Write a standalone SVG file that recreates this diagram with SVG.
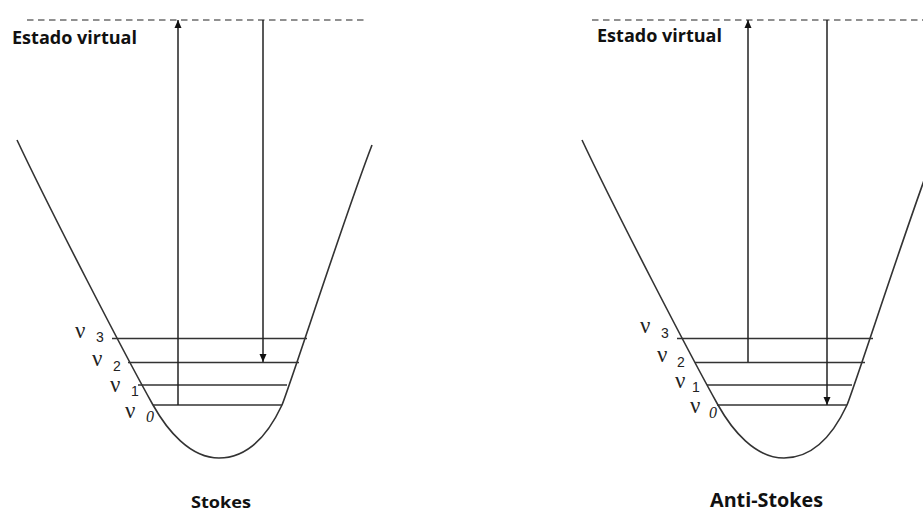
<svg xmlns="http://www.w3.org/2000/svg" width="923" height="514" viewBox="0 0 923 514">
<style>
.bg{fill:#ffffff}
.dash{stroke:#222;stroke-width:1.2;stroke-dasharray:6.5 4.5;fill:none}
.curve{stroke:#333;stroke-width:1.6;fill:none}
.lvl{stroke:#333;stroke-width:1.6;fill:none}
.arr{stroke:#222;stroke-width:1.5;fill:none;marker-end:url(#ah)}
.title{font-family:"Open Sans","Liberation Sans",sans-serif;font-weight:700;fill:#111}
.nu{font-family:"Liberation Serif","DejaVu Serif",serif;font-size:23px;fill:#222}
.sub{font-family:"Liberation Sans","DejaVu Sans",sans-serif;font-size:14px;fill:#222}
.sub0{font-family:"Liberation Serif","DejaVu Serif",serif;font-style:italic;font-size:16px;fill:#222}
</style>
<defs>
<marker id="ah" viewBox="0 0 8 8" refX="8" refY="4" markerWidth="8" markerHeight="8" markerUnits="userSpaceOnUse" orient="auto">
<path d="M0,0.5 L8,4 L0,7.5 Z" fill="#111"/>
</marker>
<path id="well" d="M17,140 C50,210 125,355 153,405 C167,430 190,458 219,458 C248,458 268,435 282,405 C292,380 345,215 372,145"/>
</defs>
<rect class="bg" x="0" y="0" width="923" height="514"/>

<g id="stokes">
<g id="stokes-virtual">
<line class="dash" x1="27" y1="20" x2="368" y2="20"/>
<text class="title" x="12" y="44" font-size="17" textLength="125" lengthAdjust="spacingAndGlyphs">Estado virtual</text>
</g>
<g id="stokes-well">
<use href="#well" class="curve"/>
</g>
<g id="stokes-levels">
<line class="lvl" x1="112" y1="338.5" x2="307" y2="338.5"/>
<line class="lvl" x1="128" y1="362.5" x2="299" y2="362.5"/>
<line class="lvl" x1="138" y1="385" x2="287" y2="385"/>
<line class="lvl" x1="153" y1="405" x2="282" y2="405"/>
</g>
<g id="stokes-labels">
<text class="nu" x="75" y="338">ν</text><text class="sub" x="96" y="342">3</text>
<text class="nu" x="92" y="366">ν</text><text class="sub" x="113" y="371">2</text>
<text class="nu" x="110" y="392">ν</text><text class="sub" x="131" y="396">1</text>
<text class="nu" x="125" y="418">ν</text><text class="sub0" x="146" y="422">0</text>
</g>
<text id="stokes-title" class="title" x="191" y="508" font-size="16" textLength="60" lengthAdjust="spacingAndGlyphs">Stokes</text>
</g>

<g id="antistokes">
<g id="antistokes-virtual">
<line class="dash" x1="592" y1="20" x2="923" y2="20"/>
<text class="title" x="597" y="42" font-size="17" textLength="125" lengthAdjust="spacingAndGlyphs">Estado virtual</text>
</g>
<g id="antistokes-well">
<use href="#well" class="curve" transform="translate(565,0)"/>
</g>
<g id="antistokes-levels">
<line class="lvl" x1="677" y1="338.5" x2="873" y2="338.5"/>
<line class="lvl" x1="695" y1="362.5" x2="865" y2="362.5"/>
<line class="lvl" x1="707" y1="385" x2="852" y2="385"/>
<line class="lvl" x1="717" y1="405" x2="847" y2="405"/>
</g>
<g id="antistokes-labels">
<text class="nu" x="640" y="333">ν</text><text class="sub" x="661" y="338">3</text>
<text class="nu" x="657" y="362">ν</text><text class="sub" x="677" y="367">2</text>
<text class="nu" x="675" y="388">ν</text><text class="sub" x="692" y="392">1</text>
<text class="nu" x="690" y="413">ν</text><text class="sub0" x="709" y="418">0</text>
</g>
<text id="antistokes-title" class="title" x="710" y="507" font-size="20" textLength="113" lengthAdjust="spacingAndGlyphs">Anti-Stokes</text>
</g>

<g id="connectors">
<line class="arr" x1="178" y1="405" x2="178" y2="20"/>
<line class="arr" x1="263" y1="20" x2="263" y2="362"/>
<line class="arr" x1="748" y1="362" x2="748" y2="20"/>
<line class="arr" x1="827" y1="20" x2="827" y2="405"/>
</g>
</svg>
